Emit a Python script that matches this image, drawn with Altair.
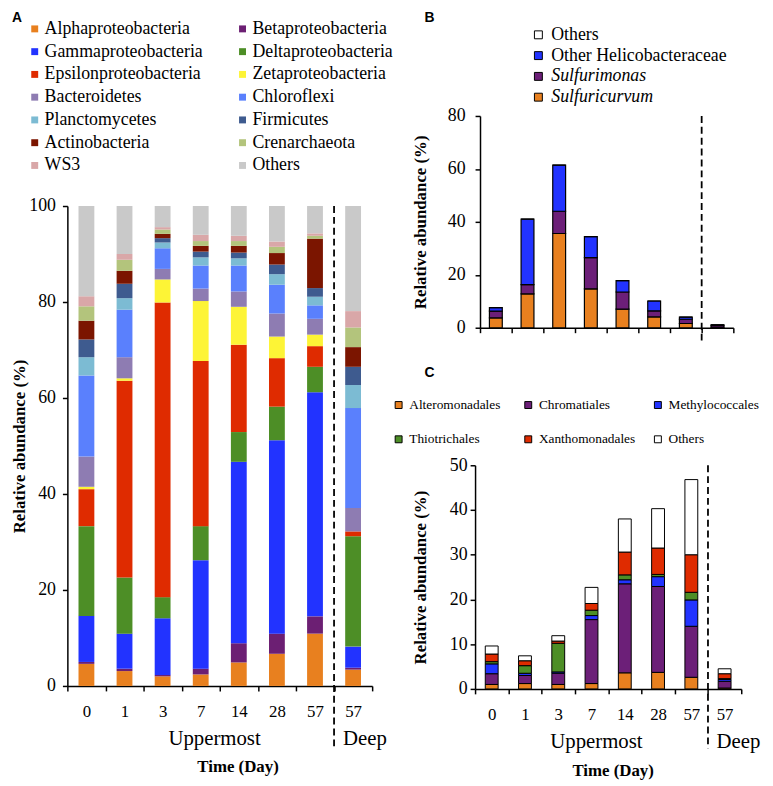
import altair as alt
import pandas as pd

W, H = 765, 778
SERIF = "Liberation Serif"
SANS = "Liberation Sans"

days = ["0", "1", "3", "7", "14", "28", "57", "57 (Deep)"]

# ---------------- Panel A : phyla (stack order, bottom to top) ----------------
phyla = ["Alphaproteobacteria", "Betaproteobacteria", "Gammaproteobacteria", "Deltaproteobacteria",
         "Epsilonproteobacteria", "Zetaproteobacteria", "Bacteroidetes", "Chloroflexi",
         "Planctomycetes", "Firmicutes", "Actinobacteria", "Crenarchaeota", "WS3", "Others"]
phyla_colors = ["#E8801F", "#6C1F73", "#2233FF", "#4D8E26", "#DF2B00", "#FDF436", "#8E7CB2",
                "#5A80FD", "#7CBBD3", "#3E5B8F", "#7B1500", "#B3C47C", "#D9A7A8", "#C9C9C9"]
# legend reading order (column by column)
phyla_legend = ["Alphaproteobacteria", "Gammaproteobacteria", "Epsilonproteobacteria", "Bacteroidetes",
                "Planctomycetes", "Actinobacteria", "WS3",
                "Betaproteobacteria", "Deltaproteobacteria", "Zetaproteobacteria", "Chloroflexi",
                "Firmicutes", "Crenarchaeota", "Others"]
alpha = [4.6, 3.1, 2.0, 2.4, 4.9, 6.7, 10.9, 3.4]
beta = [0.4, 0.5, 0.3, 1.2, 4.0, 4.2, 3.6, 0.4]
gamma = [9.6, 7.3, 11.8, 22.6, 37.8, 40.3, 46.7, 4.4]
delta = [18.7, 11.7, 4.4, 7.1, 6.2, 7.0, 5.3, 23.0]
epsilon = [7.7, 41.0, 61.4, 34.4, 18.2, 10.1, 4.3, 1.0]
zeta = [0.5, 0.5, 4.8, 12.5, 7.9, 4.5, 2.4, 0.0]
bacteroidetes = [6.3, 4.4, 2.2, 2.6, 3.2, 4.8, 3.3, 4.9]
chloroflexi = [16.9, 9.9, 4.3, 4.8, 5.4, 6.0, 2.8, 20.8]
planctomycetes = [3.8, 2.4, 1.2, 1.7, 1.5, 2.2, 1.8, 4.8]
firmicutes = [3.7, 3.0, 0.9, 1.2, 1.2, 2.0, 1.8, 3.8]
actinobacteria = [3.9, 2.7, 0.9, 1.2, 1.4, 2.4, 10.3, 4.1]
crenarchaeota = [3.0, 2.3, 0.9, 1.0, 1.0, 1.3, 0.6, 4.1]
ws3 = [2.1, 1.2, 0.5, 1.3, 1.1, 1.1, 0.5, 3.4]
others_a = [18.8, 10.0, 4.4, 6.0, 6.2, 7.4, 5.7, 21.9]
phyla_values = [alpha, beta, gamma, delta, epsilon, zeta, bacteroidetes, chloroflexi,
                planctomycetes, firmicutes, actinobacteria, crenarchaeota, ws3, others_a]

# ---------------- Panel B : Epsilonproteobacteria genera ----------------
genera = ["Sulfuricurvum", "Sulfurimonas", "Other Helicobacteraceae", "Others"]
genera_legend = ["Others", "Other Helicobacteraceae", "Sulfurimonas", "Sulfuricurvum"]
genera_legend_colors = ["#FFFFFF", "#2233FF", "#6C1F78", "#E8801F"]
sulfuricurvum = [3.7, 12.8, 35.6, 14.7, 7.0, 4.1, 1.6, 0.2]
sulfurimonas = [2.6, 3.5, 8.4, 11.8, 6.5, 2.3, 1.6, 0.7]
other_helico = [1.3, 24.7, 17.4, 7.9, 4.3, 3.7, 0.8, 0.2]
others_b = [0.0, 0.0, 0.0, 0.0, 0.0, 0.0, 0.0, 0.0]
genera_values = [sulfuricurvum, sulfurimonas, other_helico, others_b]

# ---------------- Panel C : Gammaproteobacteria orders ----------------
orders = ["Alteromonadales", "Chromatiales", "Methylococcales", "Thiotrichales", "Xanthomonadales", "Others"]
orders_legend = ["Alteromonadales", "Thiotrichales", "Chromatiales", "Xanthomonadales", "Methylococcales", "Others"]
orders_legend_colors = ["#E8801F", "#4D8E26", "#6C1F78", "#DF2B00", "#2233FF", "#FFFFFF"]
alteromonadales = [1.0, 1.2, 1.0, 1.2, 3.6, 3.7, 2.6, 0.2]
chromatiales = [2.4, 1.8, 2.5, 14.3, 19.9, 19.2, 11.4, 1.5]
methylococcales = [2.2, 0.5, 0.3, 0.9, 0.9, 2.2, 5.9, 0.4]
thiotrichales = [0.5, 1.7, 6.4, 1.2, 1.1, 0.5, 1.7, 0.2]
xanthomonadales = [1.7, 1.1, 0.5, 1.5, 5.1, 5.9, 8.4, 1.1]
others_c = [1.8, 1.1, 1.2, 3.6, 7.4, 8.8, 16.8, 1.1]
orders_values = [alteromonadales, chromatiales, methylococcales, thiotrichales, xanthomonadales, others_c]

group_labels = ["Uppermost", "Deep"]
group_days = ["7", "57 (Deep)"]


def to_long(keys, values):
    rows = []
    for i, (k, vals) in enumerate(zip(keys, values)):
        for d, v in zip(days, vals):
            rows.append({"day": d, "group": k, "value": v, "order": i})
    return pd.DataFrame(rows)


def x_axis(offset, labels=True, title=None, title_x=0, title_y=0):
    kw = dict(orient="bottom", offset=offset, tickBand="extent", grid=False,
              domainColor="black", domainWidth=1.5, tickColor="black", tickWidth=1.5, tickSize=5,
              labelFont=SERIF, labelFontSize=17, labelColor="black", labelPadding=13, labelAngle=0,
              labelExpr="split(datum.label, ' ')[0]", labels=labels)
    if title:
        kw.update(title=title, titleX=title_x, titleY=title_y, titleFont=SERIF, titleFontSize=17,
                  titleFontWeight="bold", titleColor="black", titleBaseline="middle", titleAlign="center")
    else:
        kw.update(title=None)
    return alt.Axis(**kw)


def y_axis(offset, values, title_padding, label_padding):
    return alt.Axis(orient="left", offset=offset, values=values, grid=False,
                    domainColor="black", domainWidth=1.5, tickColor="black", tickWidth=1.5, tickSize=5,
                    labelFont=SERIF, labelFontSize=18, labelColor="black", labelPadding=label_padding,
                    title="Relative abundance (%)", titleFont=SERIF, titleFontSize=17,
                    titleFontWeight="bold", titleColor="black", titlePadding=title_padding)


def panel_scales(xr, ydom, yr):
    xs = alt.Scale(domain=days, range=xr, paddingInner=0, paddingOuter=0)
    ys = alt.Scale(domain=ydom, range=yr, nice=False)
    return xs, ys


def separator(xs, ys, top, bottom):
    return alt.Chart(pd.DataFrame({"day": ["57 (Deep)"], "top": [top], "bottom": [bottom]})).mark_rule(
        strokeDash=[7, 4], strokeWidth=1.8, color="black").encode(
        x=alt.X("day:N", bandPosition=0, scale=xs, axis=None),
        y=alt.Y("top:Q", scale=ys, axis=None), y2="bottom:Q")


def group_text(xs, ys, pos, dxs):
    layers = []
    for d, lab, dx in zip(group_days, group_labels, dxs):
        layers.append(alt.Chart(pd.DataFrame({"day": [d], "label": [lab], "pos": [pos]})).mark_text(
            font=SERIF, fontSize=21, color="black", dx=dx).encode(
            x=alt.X("day:N", scale=xs, axis=None), y=alt.Y("pos:Q", scale=ys, axis=None), text="label:N"))
    return layers


# ---------- Panel A ----------
df_a = to_long(phyla, phyla_values)
xs_a, ys_a = panel_scales([60, 368], [0, 100], [681, 196])
bars_a = alt.Chart(df_a).mark_bar(width=16).encode(
    x=alt.X("day:N", scale=xs_a, axis=x_axis(-(H - 681), True, "Time (Day)", 232, 81)),
    y=alt.Y("value:Q", stack="zero", scale=ys_a, axis=y_axis(-60, [0, 20, 40, 60, 80, 100], 0, 7)),
    color=alt.Color("group:N",
                    scale=alt.Scale(domain=phyla_legend,
                                    range=[phyla_colors[phyla.index(p)] for p in phyla_legend]),
                    legend=alt.Legend(orient="none", legendX=18, legendY=8, title=None, columns=2,
                                      symbolType="square", symbolSize=49, symbolStrokeWidth=0,
                                      labelFont=SERIF, labelFontSize=18, labelColor="black",
                                      labelOffset=1, rowPadding=5, columnPadding=31, padding=0,
                                      labelLimit=300)),
    order=alt.Order("order:Q", sort="ascending"),
)

# ---------- Panel B ----------
df_b = to_long(genera, genera_values)
xs_b, ys_b = panel_scales([477, 733], [0, 80], [319, 105])
bars_b = alt.Chart(df_b).mark_bar(width=13, stroke="black", strokeWidth=1.2).encode(
    x=alt.X("day:N", scale=xs_b, axis=x_axis(-(H - 319), False)),
    y=alt.Y("value:Q", stack="zero", scale=ys_b, axis=y_axis(-477, [0, 20, 40, 60, 80], 18, 10)),
    color=alt.Color("group:N", scale=alt.Scale(domain=genera_legend, range=genera_legend_colors),
                    legend=alt.Legend(orient="none", legendX=527, legendY=14, title=None,
                                      symbolType="square", symbolSize=64, symbolStrokeColor="black",
                                      symbolStrokeWidth=1, labelFont=SERIF, labelFontSize=18,
                                      labelColor="black", labelOffset=4, rowPadding=3, padding=0,
                                      labelLimit=300,
                                      labelFontStyle={"expr": "datum.label == 'Sulfurimonas' || datum.label == 'Sulfuricurvum' ? 'italic' : 'normal'"})),
    order=alt.Order("order:Q", sort="ascending"),
)

# ---------- Panel C ----------
df_c = to_long(orders, orders_values)
xs_c, ys_c = panel_scales([472, 741], [0, 50], [684, 458])
bars_c = alt.Chart(df_c).mark_bar(width=13, stroke="black", strokeWidth=1).encode(
    x=alt.X("day:N", scale=xs_c, axis=x_axis(-(H - 684), True, "Time (Day)", 611, 83)),
    y=alt.Y("value:Q", stack="zero", scale=ys_c, axis=y_axis(-472, [0, 10, 20, 30, 40, 50], 20, 3)),
    color=alt.Color("group:N", scale=alt.Scale(domain=orders_legend, range=orders_legend_colors),
                    legend=alt.Legend(orient="none", legendX=388, legendY=390, title=None, columns=3,
                                      gridAlign="all", symbolType="square", symbolSize=49,
                                      symbolStrokeColor="black", symbolStrokeWidth=1,
                                      labelFont=SERIF, labelFontSize=13.5, labelColor="black",
                                      labelOffset=4, rowPadding=20, columnPadding=16, padding=0,
                                      labelLimit=300)),
    order=alt.Order("order:Q", sort="ascending"),
)


def letter(t, x, y):
    return alt.Chart().mark_text(text=t, font=SANS, fontWeight="bold", fontSize=14, color="black").encode(
        x=alt.value(x), y=alt.value(y))


layers = [bars_a, bars_b, bars_c,
          separator(xs_a, ys_a, 100, -13.2), separator(xs_b, ys_b, 80, -6), separator(xs_c, ys_c, 50, -13.3)]
layers += group_text(xs_a, ys_a, -11.1, [14, 12])
layers += group_text(xs_c, ys_c, -11.9, [5, 14])
layers += [letter("A", 9, 6), letter("B", 426, 6), letter("C", 426, 365)]

chart = alt.layer(*layers).resolve_scale(
    x="independent", y="independent", color="independent"
).properties(
    width=W, height=H, autosize=alt.AutoSizeParams(type="none"), padding=0
).configure_view(stroke=None)

chart.save("out.html", embed_options={"renderer": "svg", "actions": False})
